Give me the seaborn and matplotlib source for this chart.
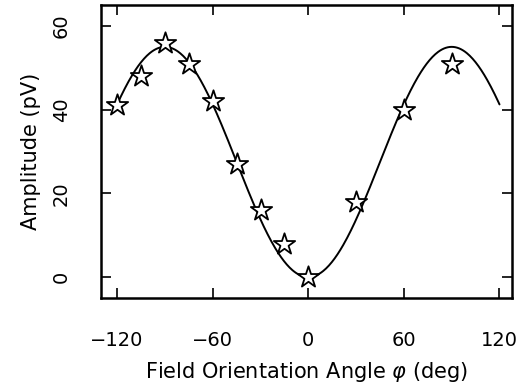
import numpy as np
import pandas as pd
import matplotlib
matplotlib.use("Agg")
import matplotlib.pyplot as plt
import seaborn as sns

angle_deg = [-120, -105, -90, -75, -60, -45, -30, -15, 0, 30, 60, 90]
amplitude_pv = [41, 48, 56, 51, 42, 27, 16, 8, 0, 18, 40, 51]

# Fitted model: A * sin^2(phi), amplitude
fit_amplitude = 55.0
fit_range = [-120, 120]

x_ticks = [-120, -60, 0, 60, 120]
y_ticks = [0, 20, 40, 60]

sns.set_theme(style="ticks")
plt.rcParams['font.family'] = ['DejaVu Sans']
plt.rcParams['text.color'] = 'black'
plt.rcParams['axes.labelcolor'] = 'black'

fig = plt.figure(figsize=(5.27, 3.85), dpi=100)
ax = fig.add_axes([0.192, 0.226, 0.780, 0.761])

phi = np.linspace(fit_range[0], fit_range[1], 400)
curve = pd.DataFrame({"phi": phi, "amp": fit_amplitude * np.sin(np.radians(phi)) ** 2})
pts = pd.DataFrame({"phi": angle_deg, "amp": amplitude_pv})

sns.lineplot(data=curve, x="phi", y="amp", ax=ax, color="black", lw=1.4)
sns.scatterplot(data=pts, x="phi", y="amp", ax=ax, marker="*", s=260,
                facecolor="white", edgecolor="black", linewidth=1.3, zorder=5)

ax.set_xlim(-130, 128)
ax.set_ylim(-5, 65)
ax.set_xticks(x_ticks)
ax.set_xticklabels(["\u2212120", "\u221260", "0", "60", "120"])
ax.set_yticks(y_ticks)
ax.set_yticklabels([str(v) for v in y_ticks], rotation=90, va="center")

ax.tick_params(direction="in", length=7, width=1.2, top=True, right=True,
               labelsize=14, pad=24, colors="black")
ax.tick_params(axis="y", pad=22)
for sp in ax.spines.values():
    sp.set_linewidth(1.8)
    sp.set_color("black")

ax.set_xlabel("Field Orientation Angle $\\varphi$ (deg)", fontsize=15, labelpad=7, color="black")
ax.set_ylabel("Amplitude (pV)", fontsize=15, labelpad=8, color="black")

fig.savefig("out.png", dpi=100)
